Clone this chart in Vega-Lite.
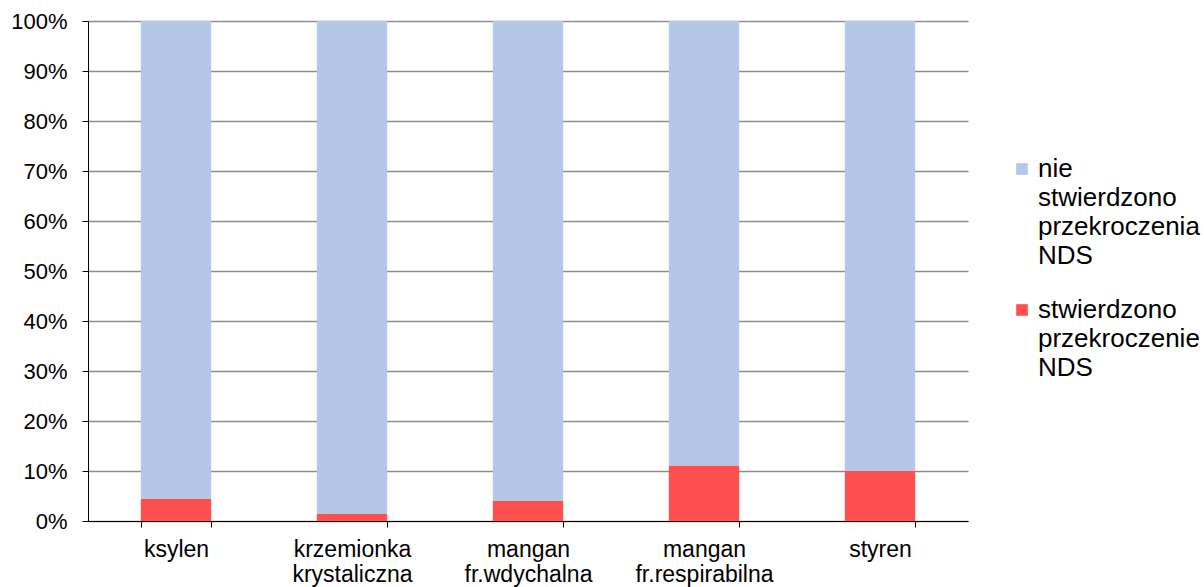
{
  "$schema": "https://vega.github.io/schema/vega-lite/v6.json",
  "width": 880,
  "height": 500,
  "autosize": {"type": "none"},
  "padding": {"left": 88, "top": 21, "right": 236, "bottom": 66},
  "background": "white",
  "config": {
    "font": "Liberation Sans",
    "view": {"stroke": null}
  },
  "data": {
    "values": [
      {"kategoria": "ksylen", "seria": "stwierdzono przekroczenie NDS", "wartosc": 4.4, "kolejnosc": 1},
      {"kategoria": "ksylen", "seria": "nie stwierdzono przekroczenia NDS", "wartosc": 95.6, "kolejnosc": 2},
      {"kategoria": "krzemionka krystaliczna", "seria": "stwierdzono przekroczenie NDS", "wartosc": 1.4, "kolejnosc": 1},
      {"kategoria": "krzemionka krystaliczna", "seria": "nie stwierdzono przekroczenia NDS", "wartosc": 98.6, "kolejnosc": 2},
      {"kategoria": "mangan fr.wdychalna", "seria": "stwierdzono przekroczenie NDS", "wartosc": 4.0, "kolejnosc": 1},
      {"kategoria": "mangan fr.wdychalna", "seria": "nie stwierdzono przekroczenia NDS", "wartosc": 96.0, "kolejnosc": 2},
      {"kategoria": "mangan fr.respirabilna", "seria": "stwierdzono przekroczenie NDS", "wartosc": 11.1, "kolejnosc": 1},
      {"kategoria": "mangan fr.respirabilna", "seria": "nie stwierdzono przekroczenia NDS", "wartosc": 88.9, "kolejnosc": 2},
      {"kategoria": "styren", "seria": "stwierdzono przekroczenie NDS", "wartosc": 10.0, "kolejnosc": 1},
      {"kategoria": "styren", "seria": "nie stwierdzono przekroczenia NDS", "wartosc": 90.0, "kolejnosc": 2}
    ]
  },
  "mark": {"type": "bar"},
  "encoding": {
    "x": {
      "field": "kategoria",
      "type": "nominal",
      "sort": ["ksylen", "krzemionka krystaliczna", "mangan fr.wdychalna", "mangan fr.respirabilna", "styren"],
      "scale": {"paddingInner": 0.6, "paddingOuter": 0.3},
      "axis": {
        "title": null,
        "labelAngle": 0,
        "labelExpr": "split(datum.label, ' ')",
        "labelFontSize": 23,
        "labelColor": "black",
        "labelLineHeight": 25,
        "labelPadding": 11,
        "labelLimit": 200,
        "tickBand": "extent",
        "tickColor": "black",
        "tickSize": 6,
        "domainColor": "black",
        "domainWidth": 1,
        "grid": false
      }
    },
    "y": {
      "field": "wartosc",
      "type": "quantitative",
      "stack": "normalize",
      "scale": {"domain": [0, 1]},
      "axis": {
        "title": null,
        "format": ".0%",
        "values": [0, 0.1, 0.2, 0.3, 0.4, 0.5, 0.6, 0.7, 0.8, 0.9, 1],
        "labelFontSize": 22,
        "labelColor": "black",
        "labelPadding": 15,
        "tickColor": "black",
        "tickSize": 6,
        "domainColor": "black",
        "grid": true,
        "gridColor": "#8c8c8c",
        "gridWidth": 1.6,
        "gridOpacity": 1
      }
    },
    "color": {
      "field": "seria",
      "type": "nominal",
      "scale": {
        "domain": ["nie stwierdzono przekroczenia NDS", "stwierdzono przekroczenie NDS"],
        "range": ["#B4C7E7", "#FF5050"]
      },
      "legend": {
        "title": null,
        "orient": "none",
        "legendX": 921,
        "legendY": 135,
        "symbolType": "square",
        "symbolSize": 135,
        "symbolStrokeWidth": 0,
        "labelFontSize": 26,
        "labelColor": "black",
        "labelExpr": "split(datum.label, ' ')",
        "labelLimit": 300,
        "rowPadding": 28,
        "labelOffset": 3,
        "encode": {
          "labels": {"update": {"lineHeight": {"value": 29}}}
        }
      }
    },
    "order": {"field": "kolejnosc", "type": "quantitative"}
  }
}
